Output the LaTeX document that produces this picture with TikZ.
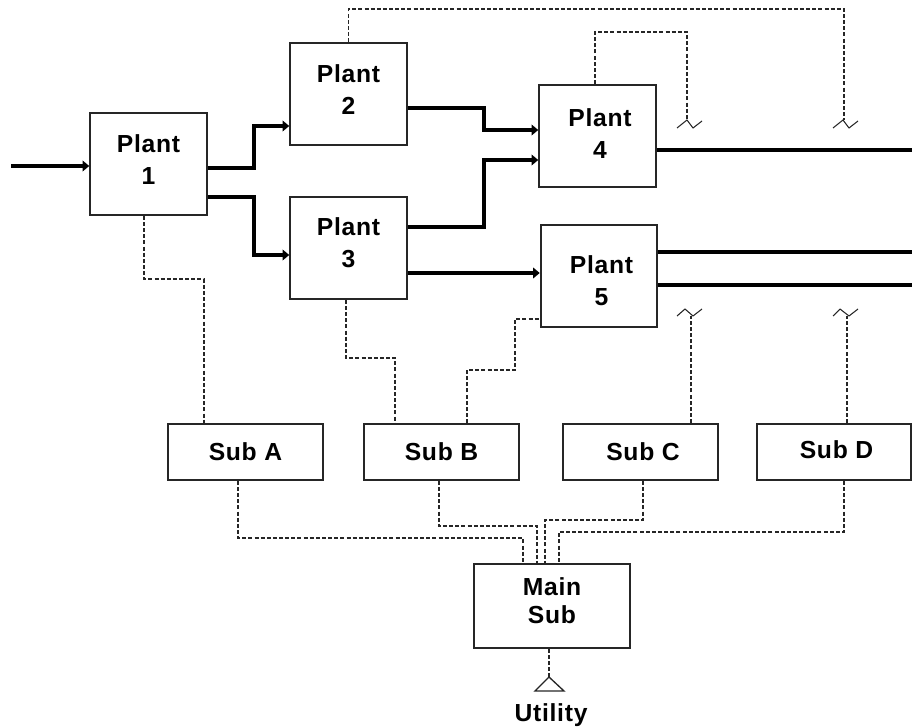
\documentclass[tikz,border=0pt]{standalone}
\usepackage{fontspec}
\setmainfont[LetterSpace=3]{Liberation Sans}
\usetikzlibrary{arrows.meta,calc}
\tikzset{
  unit/.style={draw=black!85, line width=1.4pt, fill=white, inner sep=0pt, align=center,
    font=\bfseries\fontsize{18.5}{24}\selectfont},
  plantbox/.style={unit, minimum width=87.5pt, minimum height=76.5pt},
  subbox/.style={unit, minimum width=116pt, minimum height=42pt},
  mainbox/.style={unit, minimum width=117pt, minimum height=63pt, font=\bfseries\fontsize{18.5}{21}\selectfont},
  flow/.style={line width=2.5pt, -{Triangle[length=5pt,width=8pt]}},
  flowout/.style={line width=2.5pt},
  signal/.style={line width=1.2pt, black!85, dash pattern=on 3pt off 1.6pt},
  squiggle/.style={line width=0.8pt, black!85, line join=round},
  lbl/.style={inner sep=0pt, font=\bfseries\fontsize{18.5}{24}\selectfont}
}
\newcommand{\pad}[1]{\rule[-#1pt]{0pt}{#1pt}}
\newcommand{\sft}{\hspace*{3.8pt}}
\begin{document}
\begin{tikzpicture}[x=0.75pt,y=-0.75pt]
\useasboundingbox (0,0) rectangle (912,727);
% nodes
\node[plantbox] (p1) at (148.5,164) {Plant\\1\pad{7}};
\node[plantbox] (p2) at (348.5,94) {Plant\\2\pad{7}};
\node[plantbox] (p3) at (348.5,248) {Plant\\3\pad{8}};
\node[plantbox] (p4) at (597.5,136) {\sft Plant\\\sft 4\pad{4}};
\node[plantbox] (p5) at (599,276) {\sft Plant\rule{0pt}{20pt}\\\sft 5};
\node[subbox] (sa) at (245.5,452) {Sub A};
\node[subbox] (sb) at (441.5,452) {Sub B};
\node[subbox] (sc) at (640.5,452) {\sft Sub C};
\node[subbox] (sd) at (834,452) {\sft Sub D\pad{3}};
\node[mainbox] (ms) at (552,606) {Main\\Sub\pad{8}};
\node[lbl, anchor=base] (ut) at (551,721) {Utility};
% free ends
\coordinate (in) at (11,166);
\coordinate (o4) at (912,150);
\coordinate (o5a) at (912,252);
\coordinate (o5b) at (912,285);
\coordinate (q1) at (687,120);
\coordinate (q2) at (844,120);
\coordinate (q3) at (691,316);
\coordinate (q4) at (847,316);
\coordinate (apex) at (549,677);
% product flows
\draw[flow] (in) -- (p1.west |- in);
\draw[flow] (p1.east |- 0,168) -| (254,126) -- (p2.west |- 0,126);
\draw[flow] (p1.east |- 0,197) -| (254,255) -- (p3.west |- 0,255);
\draw[flow] (p2.east |- 0,108) -| (484,130) -- (p4.west |- 0,130);
\draw[flow] (p3.east |- 0,227) -| (484,160) -- (p4.west |- 0,160);
\draw[flow] (p3.east |- 0,273) -- (p5.west |- 0,273);
\draw[flowout] (p4.east |- o4) -- (o4);
\draw[flowout] (p5.east |- o5a) -- (o5a);
\draw[flowout] (p5.east |- o5b) -- (o5b);
% signal lines
\draw[signal] (p2.north) |- (844,9) -- (q2);
\draw[signal] (p4.north -| 595,0) |- (687,32) -- (q1);
\draw[signal] (p1.south -| 144,0) |- (204,279) -- (sa.north -| 204,0);
\draw[signal] (p3.south -| 346,0) |- (395,358) -- (sb.north -| 395,0);
\draw[signal] (sb.north -| 467,0) |- (515,370) |- (p5.west |- 0,319);
\draw[signal] (sc.north -| q3) -- (q3);
\draw[signal] (sd.north -| q4) -- (q4);
\draw[signal] (sa.south -| 238,0) |- (523,538) -- (ms.north -| 523,0);
\draw[signal] (sb.south -| 439,0) |- (537,526) -- (ms.north -| 537,0);
\draw[signal] (sc.south -| 643,0) |- (545,520) -- (ms.north -| 545,0);
\draw[signal] (sd.south -| 844,0) |- (559,532) -- (ms.north -| 559,0);
\draw[signal] (ms.south -| apex) -- (apex);
% squiggles
\draw[squiggle] ($(q1)+(-10,8)$) -- ++(10,-8) -- ++(6,8) -- ++(9,-7);
\draw[squiggle] ($(q2)+(-11,8)$) -- ++(10,-8) -- ++(6,8) -- ++(9,-7);
\draw[squiggle] ($(q3)+(-14,0)$) -- ++(8,-7) -- ++(8,7) -- ++(9,-7);
\draw[squiggle] ($(q4)+(-14,0)$) -- ++(7,-7) -- ++(9,7) -- ++(9,-7);
% utility symbol
\draw[line width=1pt, black!85] (apex) -- (535,691) -- (564,691) -- cycle;
\end{tikzpicture}
\end{document}
